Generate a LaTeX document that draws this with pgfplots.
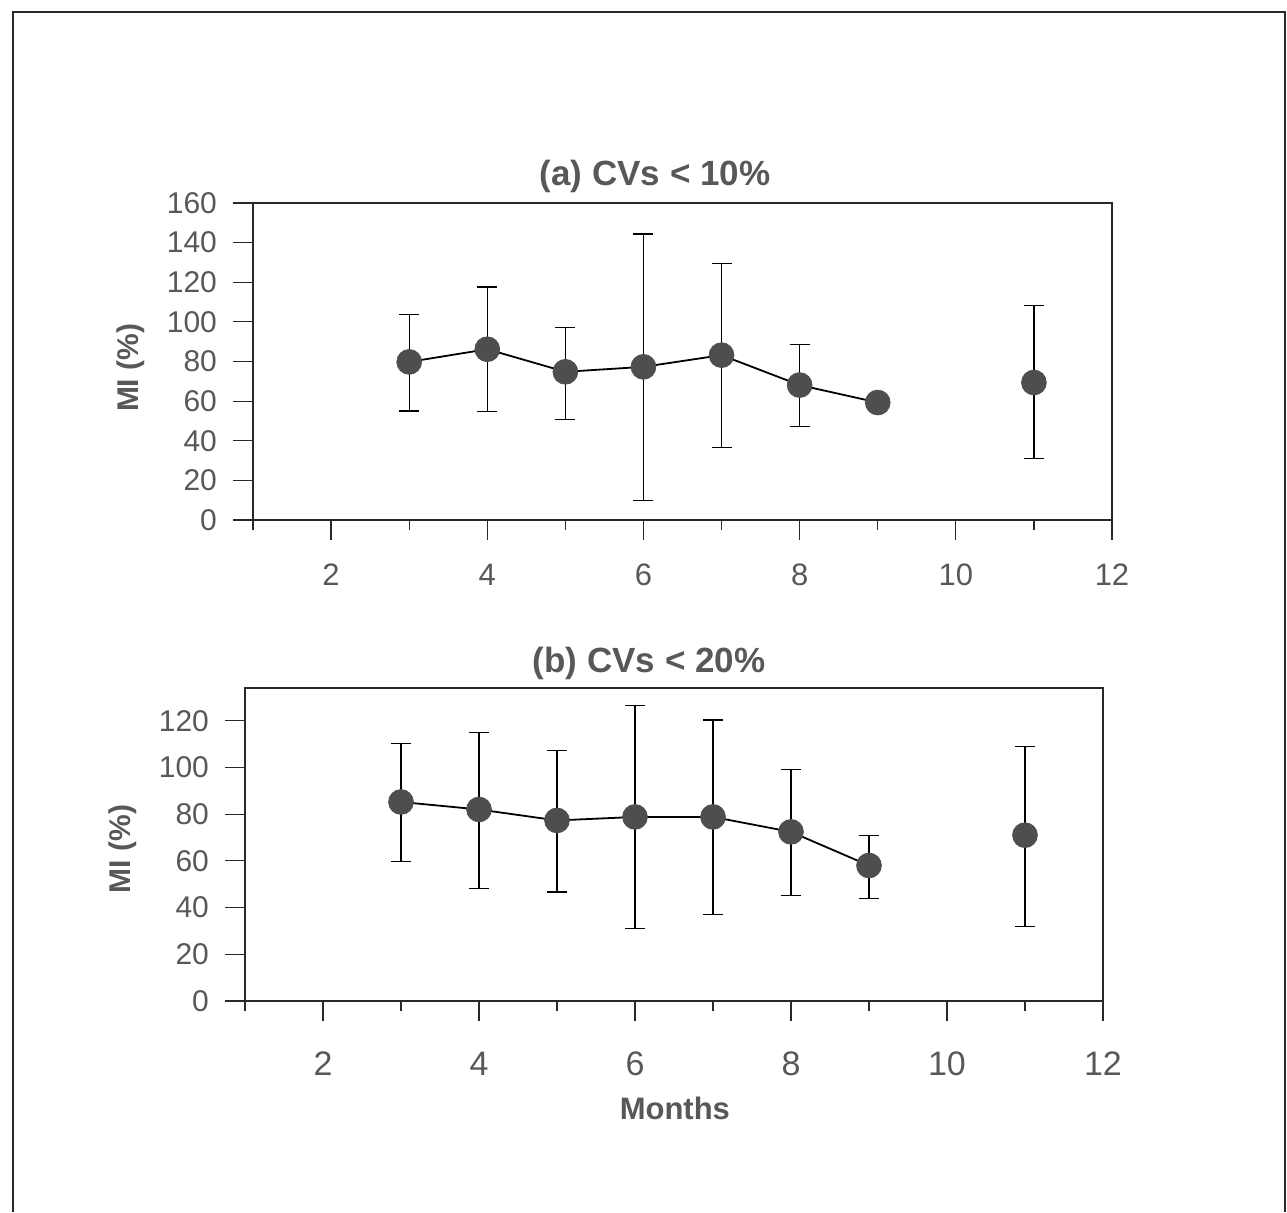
\documentclass[border=0pt]{standalone}
\usepackage{fontspec}
\setmainfont{Liberation Sans}
\usepackage{pgfplots}
\usepackage{pgfplotstable}
\pgfplotsset{compat=1.18}
\definecolor{txtgray}{RGB}{88,88,88}
\definecolor{mkgray}{RGB}{78,78,78}
\definecolor{axgray}{RGB}{40,40,40}

\pgfplotstableread{
x y ep em
3 79.8 24.1 24.8
4 86.2 31.4 31.6
5 74.8 22.5 23.9
6 77.3 67.1 67.4
7 83.2 46.4 46.7
8 68.1 20.6 21.0
9 59.3 0 0
11 69.4 38.7 38.5
}\dataA

\pgfplotstableread{
x y ep em
3 85.2 24.9 25.4
4 82.0 32.8 33.7
5 77.3 29.9 30.6
6 78.8 47.6 47.8
7 78.8 41.5 41.9
8 72.4 26.7 27.2
9 58.0 13.0 14.1
11 71.0 38.1 39.0
}\dataB

\pgfplotsset{
  common/.style={
    scale only axis,
    xmin=1, xmax=12,
    ymin=0,
    axis line style={axgray, line width=0.75pt},
    tick align=outside,
    xtick pos=left, ytick pos=left,
    xtick={2,4,6,8,10,12},
    minor xtick={1,3,5,7,9,11},
    major tick length=10pt,
    minor tick length=5pt,
    every tick/.style={axgray, line width=0.6pt},
    every y tick/.style={axgray, line width=0.6pt},
    /pgf/number format/assume math mode=true,
    yticklabel style={font=\fontsize{15pt}{15pt}\selectfont, text=txtgray, anchor=east, xshift=-4.5pt},
    every axis y label/.style={rotate=90, anchor=center, font=\bfseries\fontsize{15pt}{15pt}\selectfont, text=txtgray},
    every axis title/.style={anchor=base, font=\bfseries\fontsize{17.5pt}{17.5pt}\selectfont, text=txtgray},
    ylabel={MI (\%)},
  },
  errplot/.style={
    only marks, mark=*, mark size=6.2pt,
    mark options={draw=mkgray, fill=mkgray},
    error bars/.cd, y dir=both, y explicit,
    error mark options={rotate=90, mark size=5pt, line width=0.6pt, black},
    error bar style={line width=0.6pt, black},
  },
}

\begin{document}
\begin{tikzpicture}
\useasboundingbox (0,0) rectangle (643.5pt,606pt);
\draw[line width=1pt, axgray] (6.5pt,0) -- (6.5pt,600pt) -- (642.5pt,600pt) -- (642.5pt,0);

\begin{axis}[common,
  at={(126.5pt,346pt)}, anchor=south west,
  width=429.5pt, height=158.5pt,
  ymax=160, ytick={0,20,...,160},
  xticklabel style={font=\fontsize{15.5pt}{15.5pt}\selectfont, text=txtgray, anchor=base, yshift=-23pt},
  title={(a) CVs < 10\%},
  title style={at={(axis description cs:0.468,1.054)}},
  ylabel style={at={(axis description cs:-0.142,0.48)}},
]
\addplot[black, line width=0.9pt, restrict x to domain=3:9] table[x=x,y=y] {\dataA};
\addplot[errplot] table[x=x, y=y, y error plus=ep, y error minus=em] {\dataA};
\end{axis}

\begin{axis}[common,
  at={(122.5pt,105.5pt)}, anchor=south west,
  width=429pt, height=156.5pt,
  ymax=134, ytick={0,20,...,120},
  xticklabel style={font=\fontsize{17pt}{17pt}\selectfont, text=txtgray, anchor=base, yshift=-27pt},
  title={(b) CVs < 20\%},
  title style={at={(axis description cs:0.471,1.051)}},
  ylabel style={at={(axis description cs:-0.143,0.486)}},
  xlabel={Months},
  xlabel style={at={(axis description cs:0.501,-0.377)}, anchor=base, font=\bfseries\fontsize{15.5pt}{15.5pt}\selectfont, text=txtgray},
]
\addplot[black, line width=0.9pt, restrict x to domain=3:9] table[x=x,y=y] {\dataB};
\addplot[errplot] table[x=x, y=y, y error plus=ep, y error minus=em] {\dataB};
\end{axis}
\end{tikzpicture}
\end{document}
